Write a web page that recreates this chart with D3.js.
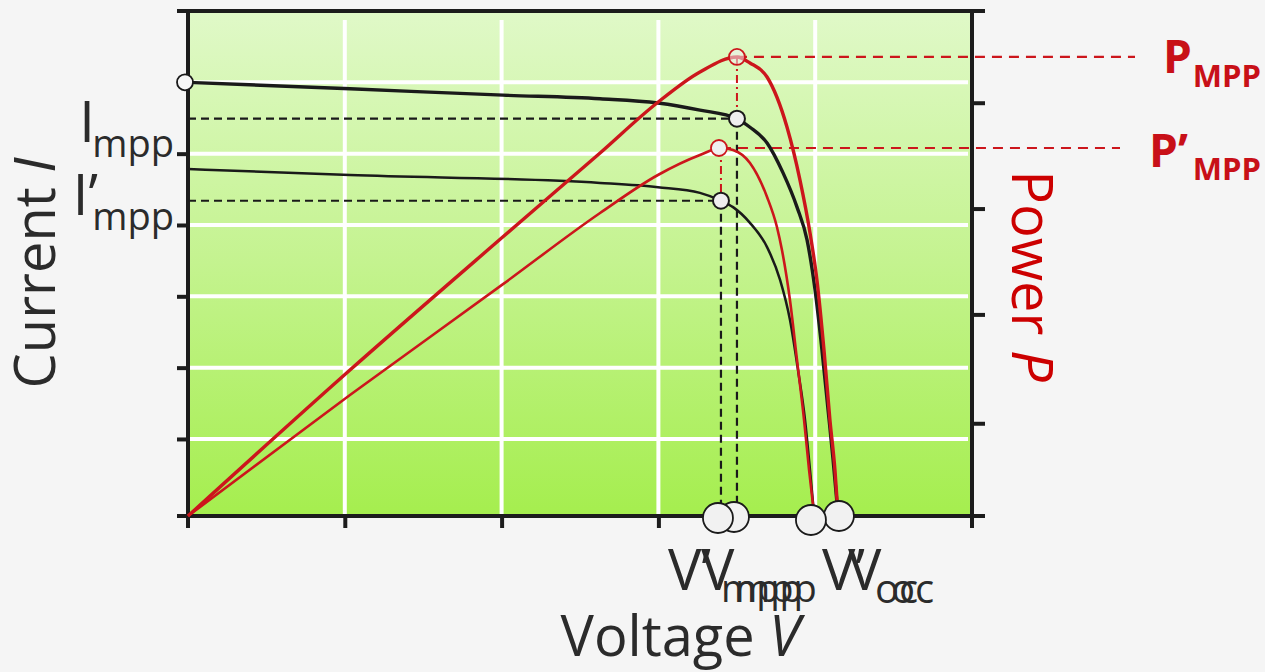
<!DOCTYPE html>
<html>
<head>
<meta charset="utf-8">
<script src="https://cdn.jsdelivr.net/npm/d3@7"></script>
<style>
  html, body { margin: 0; padding: 0; background: #f5f5f5; }
  svg { display: block; }
  text { font-family: "Open Sans", "Noto Sans", sans-serif; }
</style>
</head>
<body>
<svg id="chart" width="1265" height="672"></svg>
<script>
// ---------- data ----------
// I-V curve 1 (Voltage, Current)
const ivV1 = [0, 1.033, 2.009, 2.628, 2.997, 3.265, 3.501, 3.584, 3.693, 3.795, 3.884, 3.948, 3.999, 4.043, 4.082, 4.114, 4.145];
const ivI1 = [6.00, 5.91, 5.82, 5.77, 5.71, 5.61, 5.49, 5.37, 5.15, 4.73, 4.25, 3.79, 3.09, 2.25, 1.41, 0.71, -0.04];
// P-V curve 1
const pV1 = [0, 1.033, 2.009, 2.628, 2.991, 3.265, 3.501, 3.584, 3.693, 3.820, 3.903, 3.967, 4.011, 4.056, 4.094, 4.126, 4.145];
const pP1 = [0, 1.448, 2.77, 3.601, 4.097, 4.405, 4.554, 4.494, 4.355, 3.859, 3.333, 2.808, 2.341, 1.647, 0.952, 0.456, 0.03];
// I-V curve 2
const ivV2 = [0, 1.033, 2.628, 2.997, 3.265, 3.399, 3.476, 3.584, 3.693, 3.776, 3.839, 3.890, 3.935, 3.967, 3.992];
const ivI2 = [4.785, 4.70, 4.59, 4.53, 4.45, 4.34, 4.25, 4.03, 3.69, 3.23, 2.67, 1.97, 1.27, 0.56, -0.04];
// P-V curve 2
const pV2 = [0, 1.033, 2.009, 2.628, 2.997, 3.265, 3.399, 3.476, 3.584, 3.693, 3.756, 3.788, 3.839, 3.884, 3.929, 3.961, 3.992];
const pP2 = [0, 1.200, 2.30, 3.006, 3.383, 3.581, 3.651, 3.631, 3.502, 3.165, 2.867, 2.639, 2.143, 1.548, 0.952, 0.456, 0.03];

// characteristic points [curve1, curve2]
const mppV = [3.501, 3.399];
const mppI = [5.49, 4.34];
const mppP = [4.554, 3.651];
const ocV  = [4.145, 3.992];
const iscI = 6.00;

// tick values
const vTicks = [1, 2, 3, 4];
const iTicks = [1, 2, 3, 4, 5, 6];
const pTicks = [0.92, 2.0, 3.05, 4.1];

// ---------- scales ----------
const svg = d3.select("#chart");
const x  = d3.scaleLinear().domain([0, 5]).range([188, 972]);
const yI = d3.scaleLinear().domain([-0.08, 7]).range([516, 11]);
const yP = d3.scaleLinear().domain([0, 5]).range([516, 12]);

const X0 = x(0), X1 = x(5), Y0 = yI(-0.08), Y1 = yI(7);

// ---------- background gradient ----------
const defs = svg.append("defs");
const grad = defs.append("linearGradient").attr("id", "bg")
  .attr("x1", 0).attr("y1", 0).attr("x2", 0).attr("y2", 1);
grad.append("stop").attr("offset", "0%").attr("stop-color", "#e0f9c8");
grad.append("stop").attr("offset", "50%").attr("stop-color", "#c4f38f");
grad.append("stop").attr("offset", "100%").attr("stop-color", "#a5ee4e");

svg.append("rect").attr("x", X0).attr("y", Y1)
  .attr("width", X1 - X0).attr("height", Y0 - Y1).attr("fill", "url(#bg)");

// ---------- grid ----------
const grid = svg.append("g").attr("stroke", "#ffffff").attr("stroke-width", 4);
grid.selectAll("line.h").data(iTicks).join("line").attr("class", "h")
  .attr("x1", X0 + 2).attr("x2", X1 - 4)
  .attr("y1", d => yI(d)).attr("y2", d => yI(d));
grid.selectAll("line.v").data(vTicks).join("line").attr("class", "v")
  .attr("x1", d => x(d)).attr("x2", d => x(d))
  .attr("y1", Y1 + 9).attr("y2", Y0);

// ---------- axes ----------
const axisColor = "#1c1c1c";
function styleAxis(g) {
  g.select(".domain").remove();
  g.selectAll(".tick line").attr("stroke", axisColor).attr("stroke-width", 4);
  g.selectAll(".tick text").remove();
}
svg.append("g").attr("transform", `translate(${X0},0)`)
  .call(d3.axisLeft(yI).tickValues(iTicks).tickSize(11).tickSizeOuter(0))
  .call(styleAxis);
svg.append("g").attr("transform", `translate(${X1},0)`)
  .call(d3.axisRight(yP).tickValues(pTicks).tickSize(13).tickSizeOuter(0))
  .call(styleAxis);
svg.append("g").attr("transform", `translate(0,${Y0})`)
  .call(d3.axisBottom(x).tickValues(vTicks).tickSize(12).tickSizeOuter(0))
  .call(styleAxis);

// frame
const frame = svg.append("g").attr("stroke", axisColor).attr("stroke-width", 4).attr("fill", "none");
frame.append("line").attr("x1", X0 - 11).attr("x2", X1 + 13).attr("y1", Y1).attr("y2", Y1);
frame.append("line").attr("x1", X0 - 11).attr("x2", X1 + 13).attr("y1", Y0).attr("y2", Y0);
frame.append("line").attr("x1", X0).attr("x2", X0).attr("y1", Y1).attr("y2", Y0 + 12);
frame.append("line").attr("x1", X1).attr("x2", X1).attr("y1", Y1).attr("y2", Y0 + 12);

// ---------- guide lines ----------
const red = "#cc161c";
const guides = svg.append("g").attr("fill", "none");
mppV.forEach((v, k) => {
  guides.append("line").attr("x1", X0).attr("x2", x(v))
    .attr("y1", yI(mppI[k])).attr("y2", yI(mppI[k]))
    .attr("stroke", "#1a1a1a").attr("stroke-width", 2.2).attr("stroke-dasharray", "8,5");
  guides.append("line").attr("x1", x(v)).attr("x2", x(v))
    .attr("y1", yI(mppI[k])).attr("y2", Y0 - 8)
    .attr("stroke", "#1a1a1a").attr("stroke-width", 2.2).attr("stroke-dasharray", "8,5");
  guides.append("line").attr("x1", x(v)).attr("x2", x(v))
    .attr("y1", yP(mppP[k])).attr("y2", yI(mppI[k]))
    .attr("stroke", red).attr("stroke-width", 2).attr("stroke-dasharray", "8,4,2,4");
});
const pLineEnd = [1135, 1120];
mppV.forEach((v, k) => {
  guides.append("line").attr("x1", x(v)).attr("x2", pLineEnd[k])
    .attr("y1", yP(mppP[k])).attr("y2", yP(mppP[k]))
    .attr("stroke", red).attr("stroke-width", 2.2).attr("stroke-dasharray", "10,7");
});

// ---------- curves ----------
const lineI = d3.line().x(d => x(d[0])).y(d => yI(d[1])).curve(d3.curveMonotoneX);
const lineP = d3.line().x(d => x(d[0])).y(d => yP(d[1])).curve(d3.curveMonotoneX);
const zip = (a, b) => a.map((v, i) => [v, b[i]]);

svg.append("path").attr("d", lineI(zip(ivV2, ivI2)))
  .attr("fill", "none").attr("stroke", "#1a1a1a").attr("stroke-width", 2.5);
svg.append("path").attr("d", lineI(zip(ivV1, ivI1)))
  .attr("fill", "none").attr("stroke", "#1a1a1a").attr("stroke-width", 3.4);
svg.append("path").attr("d", lineP(zip(pV2, pP2)))
  .attr("fill", "none").attr("stroke", red).attr("stroke-width", 2.6);
svg.append("path").attr("d", lineP(zip(pV1, pP1)))
  .attr("fill", "none").attr("stroke", red).attr("stroke-width", 3.4);

// ---------- markers ----------
const mk = svg.append("g");
mk.append("circle").attr("cx", X0 - 3).attr("cy", yI(iscI)).attr("r", 8)
  .attr("fill", "#f7f7f7").attr("stroke", "#1a1a1a").attr("stroke-width", 1.8);
mppV.forEach((v, k) => {
  mk.append("circle").attr("cx", x(v)).attr("cy", yI(mppI[k])).attr("r", 8)
    .attr("fill", "#efefef").attr("stroke", "#1a1a1a").attr("stroke-width", 2);
});
mppV.forEach((v, k) => {
  mk.append("circle").attr("cx", x(v) - (k === 1 ? 2 : 0)).attr("cy", yP(mppP[k])).attr("r", 8)
    .attr("fill", k === 0 ? "rgba(240,240,240,0.55)" : "#efefef")
    .attr("stroke", red).attr("stroke-width", 1.8);
});
[0, 1].forEach(k => {
  mk.append("circle").attr("cx", x(mppV[k]) - 3).attr("cy", Y0 + 1 + k).attr("r", 15)
    .attr("fill", "#f1f1f1").attr("stroke", "#1a1a1a").attr("stroke-width", 1.8);
});
[0, 1].forEach(k => {
  mk.append("circle").attr("cx", x(ocV[k]) + (k === 0 ? 1 : -3)).attr("cy", Y0 + 4 * k).attr("r", 15)
    .attr("fill", "#f1f1f1").attr("stroke", "#1a1a1a").attr("stroke-width", 1.8);
});

// ---------- labels ----------
const txt = "#2b2b2b";
function label(xp, yp, str, size, opts = {}) {
  return svg.append("text").attr("x", xp).attr("y", yp)
    .attr("font-size", size).attr("fill", opts.fill || txt)
    .attr("font-weight", opts.weight || "normal")
    .attr("font-style", opts.style || "normal")
    .attr("text-anchor", opts.anchor || "start")
    .text(str);
}
label(95, 142, "I", 56, { anchor: "end" });
label(174, 157, "mpp", 38, { anchor: "end" });
label(98, 215, "I\u2019", 56, { anchor: "end" });
label(174, 230, "mpp", 38, { anchor: "end" });

label(668, 590, "V\u2019", 56);
label(721, 602, "mpp", 38);
label(701, 590, "V", 56);
label(735, 602, "mpp", 38);
label(822, 590, "V\u2019", 56);
label(875, 603, "oc", 40);
label(848, 590, "V", 56);
label(891, 603, "oc", 40);

label(1163, 73, "P", 46, { fill: "#c81018", weight: "bold" });
label(1261, 87, "MPP", 31, { fill: "#c81018", weight: "bold", anchor: "end" });
label(1149, 167, "P\u2019", 46, { fill: "#c81018", weight: "bold" });
label(1261, 180, "MPP", 31, { fill: "#c81018", weight: "bold", anchor: "end" });

const tV = svg.append("text").attr("x", 800).attr("y", 656).attr("font-size", 56)
  .attr("fill", txt).attr("text-anchor", "end");
tV.append("tspan").text("Voltage ");
tV.append("tspan").attr("font-style", "italic").text("V");

const tI = svg.append("text").attr("transform", "translate(55,273) rotate(-90)")
  .attr("font-size", 56).attr("fill", txt).attr("text-anchor", "middle");
tI.append("tspan").text("Current ");
tI.append("tspan").attr("font-style", "italic").text("I");

const tP = svg.append("text").attr("transform", "translate(1012,276) rotate(90)")
  .attr("font-size", 56).attr("fill", "#cc0000").attr("text-anchor", "middle");
tP.append("tspan").text("Power ");
tP.append("tspan").attr("font-style", "italic").text("P");
</script>
</body>
</html>
